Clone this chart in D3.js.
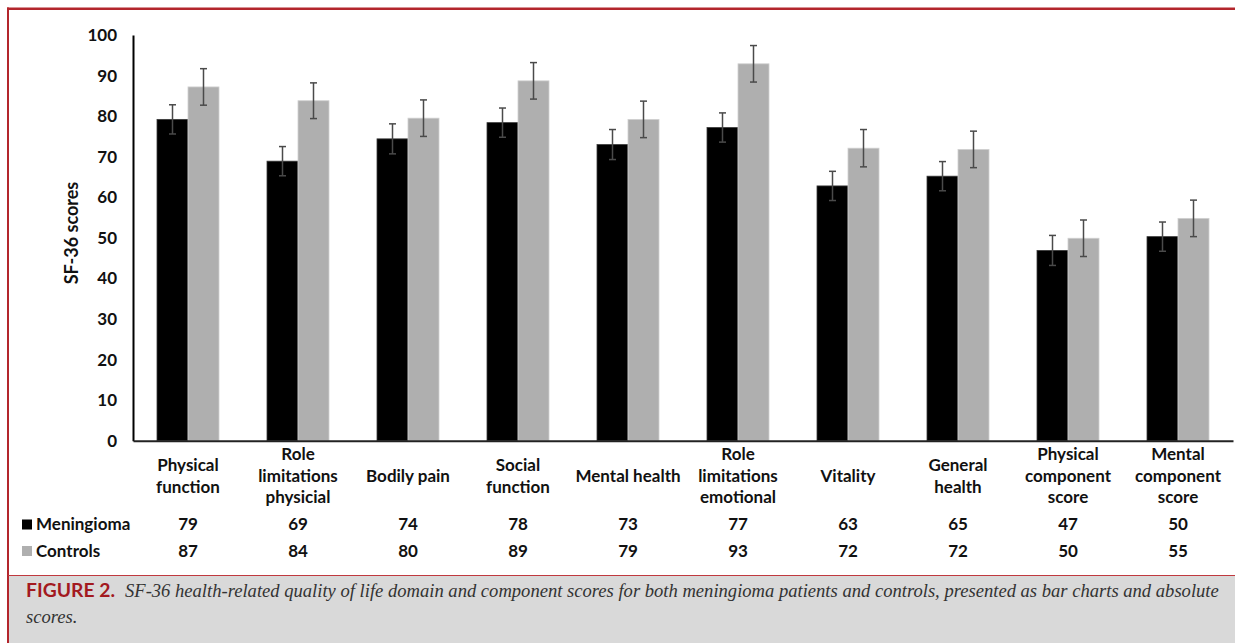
<!DOCTYPE html>
<html>
<head>
<meta charset="utf-8">
<script src="https://cdn.jsdelivr.net/npm/d3@7"></script>
<style>
  html, body { margin: 0; padding: 0; background: #ffffff; }
  svg { display: block; }
</style>
</head>
<body>
<svg id="chart" width="1235" height="643"></svg>
<script>
// ---------- data ----------
const categories = [
  "Physical function", "Role limitations physicial", "Bodily pain", "Social function",
  "Mental health", "Role limitations emotional", "Vitality", "General health",
  "Physical component score", "Mental component score"
];
const categoryLines = [
  ["Physical", "function"],
  ["Role", "limitations", "physicial"],
  ["Bodily pain"],
  ["Social", "function"],
  ["Mental health"],
  ["Role", "limitations", "emotional"],
  ["Vitality"],
  ["General", "health"],
  ["Physical", "component", "score"],
  ["Mental", "component", "score"]
];
const seriesNames = ["Meningioma", "Controls"];
const meningioma    = [79.2, 68.9, 74.4, 78.4, 73.0, 77.2, 62.8, 65.2, 46.9, 50.3];
const controls      = [87.2, 83.8, 79.5, 88.7, 79.2, 92.9, 72.1, 71.8, 49.9, 54.8];
const meningiomaErr = [3.6, 3.6, 3.7, 3.6, 3.7, 3.6, 3.6, 3.6, 3.7, 3.6];
const controlsErr   = [4.5, 4.4, 4.5, 4.5, 4.5, 4.5, 4.6, 4.5, 4.5, 4.5];
const meningiomaTable = ["79", "69", "74", "78", "73", "77", "63", "65", "47", "50"];
const controlsTable   = ["87", "84", "80", "89", "79", "93", "72", "72", "50", "55"];
const yTicks = [0, 10, 20, 30, 40, 50, 60, 70, 80, 90, 100];
const yTitle = "SF-36 scores";
const captionLabel = "FIGURE 2.";
const captionLine1 = "SF-36 health-related quality of life domain and component scores for both meningioma patients and controls, presented as bar charts and absolute";
const captionLine2 = "scores.";

// ---------- setup ----------
const svg = d3.select("#chart");
const FONT = "Lato, 'Open Sans', 'DejaVu Sans', sans-serif";
const FS = 17;
const colors = { Meningioma: "#000000", Controls: "#afafaf" };
const strokes = { Meningioma: "#3a3a3a", Controls: "#d0d0d0" };

const series = [
  { name: "Meningioma", values: meningioma, err: meningiomaErr, table: meningiomaTable },
  { name: "Controls", values: controls, err: controlsErr, table: controlsTable }
];

const x0 = d3.scaleBand().domain(categories).range([133, 1233])
  .paddingInner(0.4364).paddingOuter(0.2182);
const x1 = d3.scaleBand().domain(seriesNames).range([0, x0.bandwidth()]);
const y = d3.scaleLinear().domain([0, 100]).range([440.7, 35]);

// caption background
svg.append("rect").attr("x", 8).attr("y", 576).attr("width", 1227).attr("height", 67)
  .attr("fill", "#d9d9d9");

// bars
const g = svg.append("g");
series.forEach(s => {
  g.selectAll(null).data(categories).enter().append("rect")
    .attr("x", d => x0(d) + x1(s.name))
    .attr("y", (d, i) => y(s.values[i]))
    .attr("width", x1.bandwidth())
    .attr("height", (d, i) => y(0) - y(s.values[i]))
    .attr("fill", colors[s.name])
    .attr("stroke", strokes[s.name])
    .attr("stroke-width", 0.8);
});

// error bars
series.forEach(s => {
  const eg = g.append("g").attr("stroke", "#4a4a4a").attr("stroke-width", 1.5).attr("fill", "none");
  categories.forEach((c, i) => {
    const cx = x0(c) + x1(s.name) + x1.bandwidth() / 2;
    const hi = y(s.values[i] + s.err[i]);
    const lo = y(s.values[i] - s.err[i]);
    eg.append("line").attr("x1", cx).attr("x2", cx).attr("y1", hi).attr("y2", lo);
    eg.append("line").attr("x1", cx - 3.5).attr("x2", cx + 3.5).attr("y1", hi).attr("y2", hi);
    eg.append("line").attr("x1", cx - 3.5).attr("x2", cx + 3.5).attr("y1", lo).attr("y2", lo);
  });
});

// y axis
const yAxis = d3.axisLeft(y).tickValues(yTicks).tickSize(0).tickPadding(16);
const ya = svg.append("g").attr("transform", "translate(133,0)").call(yAxis);
ya.select(".domain").attr("stroke", "#000").attr("stroke-width", 2);
ya.selectAll("text").attr("font-family", FONT).attr("font-weight", "bold")
  .attr("font-size", FS).attr("fill", "#111");

// x axis line
const xa = svg.append("g").attr("transform", `translate(0,${y(0)})`)
  .call(d3.axisBottom(x0).tickSize(0).tickFormat(""));
xa.select(".domain").attr("stroke", "#222").attr("stroke-width", 2);

// y title
svg.append("text")
  .attr("transform", "translate(78,233) rotate(-90)")
  .attr("text-anchor", "middle")
  .attr("font-family", FONT).attr("font-weight", "bold").attr("font-size", 18)
  .attr("fill", "#111")
  .text(yTitle);

// category labels
categories.forEach((c, i) => {
  const lines = categoryLines[i];
  const cx = x0(c) + x0.bandwidth() / 2;
  const lh = 21.5;
  const startY = 476 - (lines.length - 1) * lh / 2;
  const t = svg.append("text")
    .attr("text-anchor", "middle")
    .attr("font-family", FONT).attr("font-weight", "bold").attr("font-size", FS)
    .attr("fill", "#111");
  lines.forEach((ln, j) => {
    t.append("tspan").attr("x", cx).attr("y", startY + j * lh).attr("dy", "0.35em").text(ln);
  });
});

// data table with legend keys
const rowY = [524.5, 551];
series.forEach((s, r) => {
  svg.append("rect").attr("x", 22).attr("y", rowY[r] - 5).attr("width", 10).attr("height", 10)
    .attr("fill", colors[s.name]);
  svg.append("text").attr("x", 36).attr("y", rowY[r]).attr("dy", "0.35em")
    .attr("font-family", FONT).attr("font-weight", "bold").attr("font-size", FS)
    .attr("fill", "#111").text(s.name);
  categories.forEach((c, i) => {
    svg.append("text")
      .attr("x", x0(c) + x0.bandwidth() / 2).attr("y", rowY[r]).attr("dy", "0.35em")
      .attr("text-anchor", "middle")
      .attr("font-family", FONT).attr("font-weight", "bold").attr("font-size", FS)
      .attr("fill", "#111").text(s.table[i]);
  });
});

// frame lines
svg.append("line").attr("x1", 7).attr("x2", 1235).attr("y1", 8.7).attr("y2", 8.7)
  .attr("stroke", "#b3262c").attr("stroke-width", 2.6);
svg.append("line").attr("x1", 8).attr("x2", 8).attr("y1", 7.5).attr("y2", 643)
  .attr("stroke", "#b3262c").attr("stroke-width", 2);
svg.append("line").attr("x1", 8).attr("x2", 1235).attr("y1", 575.5).attr("y2", 575.5)
  .attr("stroke", "#c0393f").attr("stroke-width", 1.2);

// caption
svg.append("text").attr("x", 26).attr("y", 597)
  .attr("font-family", "Lato, 'Open Sans', sans-serif").attr("font-weight", "bold")
  .attr("font-size", 19).attr("fill", "#a3191f")
  .attr("textLength", 89).attr("lengthAdjust", "spacingAndGlyphs")
  .text(captionLabel);
const cap1 = svg.append("text").attr("x", 125).attr("y", 597)
  .attr("font-family", "'Liberation Serif', 'DejaVu Serif', serif").attr("font-style", "italic")
  .attr("font-size", 19).attr("fill", "#333")
  .text(captionLine1);
const natural = cap1.node().getComputedTextLength();
const fitSize = Math.min(19, 19 * 1095 / natural);
cap1.attr("font-size", fitSize);
svg.append("text").attr("x", 26).attr("y", 623)
  .attr("font-family", "'Liberation Serif', 'DejaVu Serif', serif").attr("font-style", "italic")
  .attr("font-size", fitSize).attr("fill", "#333")
  .text(captionLine2);
</script>
</body>
</html>
